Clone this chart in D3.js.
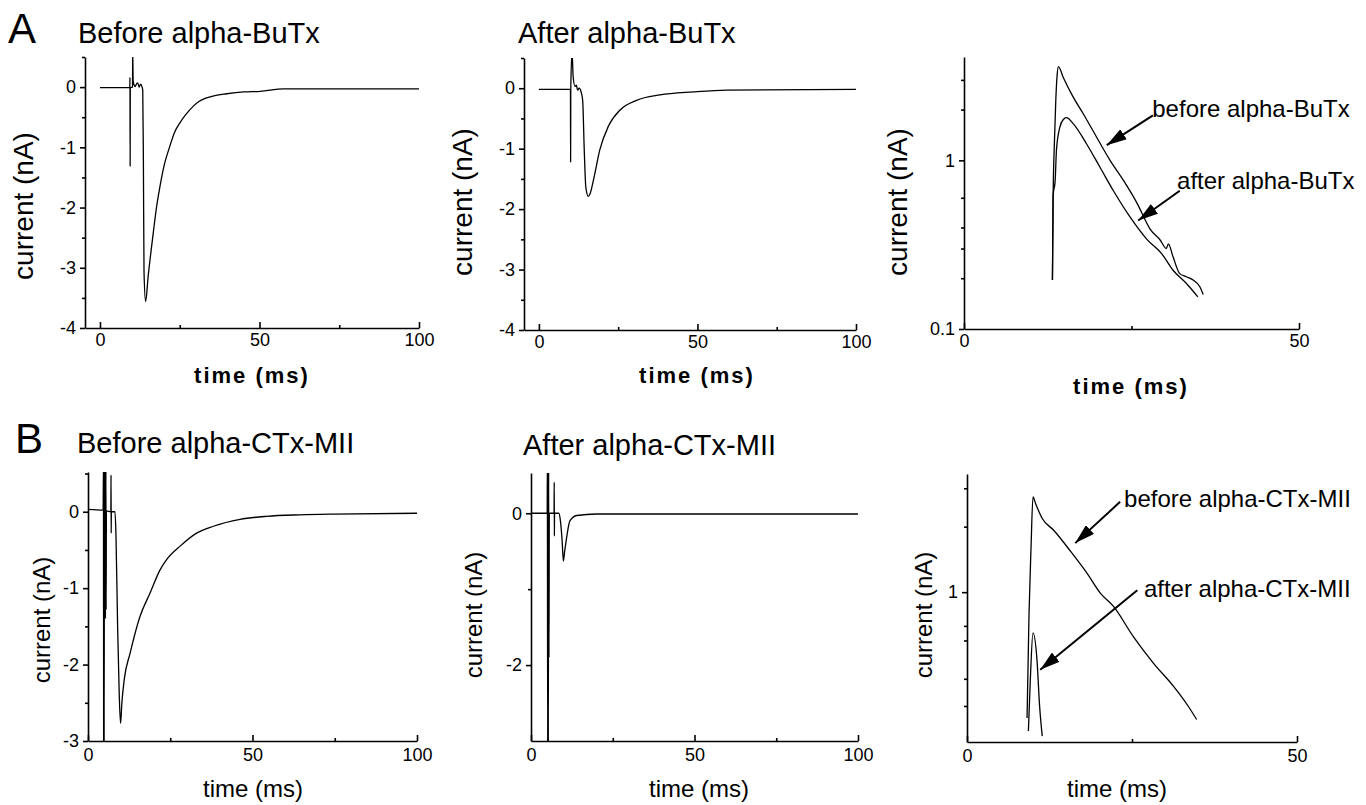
<!DOCTYPE html>
<html>
<head>
<meta charset="utf-8">
<script src="https://cdn.jsdelivr.net/npm/d3@7"></script>
<style>
  body { margin: 0; background: #fff; }
  svg text { font-family: "Liberation Sans", Arial, Helvetica, sans-serif; fill: #000; }
  .axis path, .axis line { stroke: #000; stroke-width: 1.6; }
  .axis text { font-size: 18px; font-family: "Liberation Sans", Arial, sans-serif; }
  .trace { fill: none; stroke: #000; stroke-width: 1.3; stroke-linejoin: round; }
  .title { font-size: 29px; }
  .letter { font-size: 42px; }
  .note { font-size: 24px; }
</style>
</head>
<body>
<svg id="fig" width="1366" height="805"></svg>
<script>

// ---- traces, [time ms, current nA] ----
var beforeBuTx = [[0,-0.01],[9.35,-0.01],[9.4,0.16],[9.45,-1.31],[9.5,-0.01],[10.2,0.0],[10.25,0.6],[10.4,0.1],
  [10.7,0.03],[11.0,0.01],[11.4,0.05],[11.8,0.07],[12.3,0.0],[12.7,0.05],[13.2,0.0],[13.4,-0.05],[13.6,-1.2],
  [13.8,-3.06],[14.3,-3.56],[15.1,-3.14],[16.7,-2.42],[17.7,-2.0],[18.8,-1.65],[20.2,-1.28],[21.9,-0.98],
  [23.3,-0.76],[25.1,-0.59],[27,-0.45],[29.2,-0.32],[31,-0.24],[33.4,-0.18],[36,-0.14],[39.7,-0.11],
  [45,-0.08],[50.2,-0.07],[57.5,-0.03],[75,-0.03],[100,-0.03]];

var afterBuTx = [[0,-0.02],[9.95,-0.02],[10.0,-1.22],[10.05,-0.02],[10.45,0.6],[10.8,0.19],[11.4,0.03],
  [11.8,0.05],[12.2,-0.03],[12.7,0.0],[13.3,-0.06],[13.8,-0.2],[14.3,-1.02],[14.8,-1.64],[15.6,-1.79],
  [16.1,-1.75],[17.2,-1.52],[19.2,-1.02],[21.9,-0.63],[25.6,-0.36],[30.8,-0.2],[38.2,-0.11],[48.7,-0.06],
  [59.2,-0.03],[100,-0.02]];

var beforeBuTxLog = [[13.2,0.195],[13.3,0.6],[13.5,1.3],[13.7,2.27],[13.9,3.2],[14.1,3.6],[14.8,3.11],
  [16.3,2.37],[17.8,1.89],[19.8,1.37],[21.8,1.0],[23.8,0.76],[25.8,0.56],[27.8,0.39],[29.3,0.336],
  [30.2,0.30],[30.5,0.32],[31.2,0.268],[32.2,0.213],[33.2,0.204],[34.2,0.195],[35.2,0.178],[35.7,0.16]];

var afterBuTxLog = [[13.2,0.195],[13.3,0.62],[13.6,0.75],[13.8,1.15],[14.3,1.57],[14.8,1.74],[15.3,1.79],
  [16.3,1.65],[18.3,1.25],[20.3,0.91],[22.3,0.66],[24.8,0.46],[27.3,0.34],[29.5,0.28],[31.2,0.223],
  [33.2,0.186],[34.9,0.155]];

var beforeCTx = [[0,0.03],[4.6,0.02],[4.7,0.6],[4.75,-3.1],[4.85,0.6],[4.9,-3.1],[5.0,0.6],[5.1,-1.4],
  [5.2,0.6],[5.3,-1.4],[5.45,0.6],[5.5,-1.28],[5.6,0.01],[6.95,0.0],[7.0,0.48],[7.05,-0.28],[7.1,0.0],
  [8.2,0.0],[8.5,-0.3],[9.0,-1.5],[9.5,-2.4],[9.9,-2.77],[10.3,-2.5],[11.0,-2.2],[12.8,-1.85],[15.8,-1.37],
  [18.8,-1.07],[21.9,-0.76],[24,-0.62],[28,-0.45],[33,-0.28],[38.1,-0.19],[46.2,-0.10],[54.3,-0.06],
  [64.4,-0.04],[74.5,-0.03],[100,-0.02]];

var afterCTx = [[0,0],[4.95,0],[5.0,0.6],[5.1,-3.1],[5.2,0.6],[5.3,-3.1],[5.4,0.6],[5.5,-1.9],[5.6,0],
  [7.05,0],[7.1,0.41],[7.15,-0.3],[7.2,0],[8.5,0],[9.0,-0.1],[9.5,-0.35],[9.9,-0.63],[10.3,-0.5],
  [10.9,-0.32],[11.9,-0.1],[14,-0.03],[20,-0.01],[100,-0.01]];

var beforeCTxLog = [[9.1,0.264],[9.4,0.8],[9.7,1.6],[10.0,2.74],[10.4,2.55],[11.4,2.18],[13.1,1.93],
  [15.7,1.54],[18.2,1.22],[20.2,0.99],[22.2,0.86],[25.2,0.625],[28.3,0.47],[31.3,0.369],[33.5,0.3],[34.8,0.26]];

var afterCTxLog = [[9.3,0.23],[9.6,0.4],[10.0,0.65],[10.6,0.49],[11.0,0.3],[11.4,0.218]];

// ---- ticks ----
var timeTicks100 = [0, 50, 100], timeMinor100 = [25, 75];
var timeTicks50 = [0, 50], timeMinor50 = [25];
var currentTicksA = [0, -1, -2, -3, -4], currentMinorA = [0.5, -0.5, -1.5, -2.5, -3.5];
var currentTicksB1 = [0, -1, -2, -3], currentMinorB1 = [0.5, -0.5, -1.5, -2.5];
var currentTicksB2 = [0, -2], currentMinorB2 = [-1];
var logTicksA = [0.1, 1], logMinorA = [0.2, 0.3, 0.4, 0.6, 2, 3];
var logTicksB = [1], logMinorB = [0.3, 0.4, 0.6, 0.7, 2, 3];

// ---- arrow notes, in data units ----
var notesBuTx = [
  { label: "before alpha-BuTx", at: [28.1, 1.80], from: [28.2, 1.85], to: [21.3, 1.23] },
  { label: "after alpha-BuTx", at: [31.8, 0.68], from: [32.2, 0.66], to: [26.0, 0.44] }
];
var notesCTx = [
  { label: "before alpha-CTx-MII", at: [23.8, 2.46], from: [23.2, 2.6], to: [16.4, 1.68] },
  { label: "after alpha-CTx-MII", at: [26.8, 0.95], from: [25.8, 1.02], to: [11.1, 0.44] }
];

var svg = d3.select("#fig");

svg.append("defs").append("marker")
  .attr("id", "arrowhead")
  .attr("markerUnits", "userSpaceOnUse")
  .attr("viewBox", "0 0 20 12")
  .attr("refX", 20).attr("refY", 6)
  .attr("markerWidth", 20).attr("markerHeight", 12)
  .attr("orient", "auto")
  .append("path")
  .attr("d", "M0,0 L20,6 L0,12 Z")
  .attr("fill", "#000");

function fmt(d) { return String(d); }

function drawPanel(o) {
  var x = d3.scaleLinear().domain(o.xDomain).range([o.left, o.right]);
  var y = (o.log ? d3.scaleLog() : d3.scaleLinear()).domain(o.yDomain).range([o.bottom, o.top]);

  svg.append("clipPath").attr("id", o.id + "-clip")
    .append("rect")
    .attr("x", o.left).attr("y", o.top)
    .attr("width", o.right - o.left).attr("height", o.bottom - o.top);

  // minor ticks
  svg.append("g").attr("class", "axis")
    .attr("transform", "translate(0," + o.bottom + ")")
    .call(d3.axisBottom(x).tickValues(o.xMinor).tickSize(-3).tickFormat(""))
    .select(".domain").remove();
  svg.append("g").attr("class", "axis")
    .attr("transform", "translate(" + o.left + ",0)")
    .call(d3.axisLeft(y).tickValues(o.yMinor).tickSize(3).tickFormat(""))
    .select(".domain").remove();

  // main axes
  svg.append("g").attr("class", "axis")
    .attr("transform", "translate(0," + o.bottom + ")")
    .call(d3.axisBottom(x).tickValues(o.xTicks).tickSizeInner(-6).tickSizeOuter(0)
      .tickPadding(o.xPad).tickFormat(fmt));
  svg.append("g").attr("class", "axis")
    .attr("transform", "translate(" + o.left + ",0)")
    .call(d3.axisLeft(y).tickValues(o.yTicks).tickSizeInner(5).tickSizeOuter(0)
      .tickPadding(4).tickFormat(fmt));

  var line = d3.line()
    .curve(d3.curveMonotoneX)
    .x(function(d) { return x(d[0]); })
    .y(function(d) { return y(d[1]); });

  o.series.forEach(function(s) {
    svg.append("path")
      .datum(s)
      .attr("class", "trace")
      .attr("clip-path", "url(#" + o.id + "-clip)")
      .attr("d", line);
  });

  // axis titles
  svg.append("text")
    .attr("transform", "translate(" + o.yLabelX + "," + o.yLabelY + ") rotate(-90)")
    .attr("text-anchor", "middle")
    .style("font-size", o.yLabelSize + "px")
    .text("current (nA)");

  svg.append("text")
    .attr("x", o.xLabelX).attr("y", o.xLabelY)
    .attr("text-anchor", "middle")
    .style("font-size", o.xLabelSize + "px")
    .style("font-weight", o.xLabelBold ? "bold" : "normal")
    .style("letter-spacing", o.xLabelBold ? "2px" : "0px")
    .text("time (ms)");

  if (o.title) {
    svg.append("text").attr("class", "title")
      .attr("x", o.titleX).attr("y", o.titleY)
      .text(o.title);
  }

  (o.notes || []).forEach(function(n) {
    svg.append("line")
      .attr("x1", x(n.from[0])).attr("y1", y(n.from[1]))
      .attr("x2", x(n.to[0])).attr("y2", y(n.to[1]))
      .attr("stroke", "#000").attr("stroke-width", 2)
      .attr("marker-end", "url(#arrowhead)");
    svg.append("text").attr("class", "note")
      .attr("x", x(n.at[0])).attr("y", y(n.at[1]))
      .text(n.label);
  });
}

// row A
drawPanel({
  id: "a1", left: 85, right: 419, top: 57, bottom: 328,
  xDomain: [-4.7, 100], yDomain: [-4, 0.5],
  xTicks: timeTicks100, xMinor: timeMinor100, yTicks: currentTicksA, yMinor: currentMinorA,
  xPad: 5, series: [beforeBuTx],
  yLabelX: 33, yLabelY: 206, yLabelSize: 28,
  xLabelX: 252, xLabelY: 383, xLabelSize: 22, xLabelBold: true,
  title: "Before alpha-BuTx", titleX: 78, titleY: 43
});

drawPanel({
  id: "a2", left: 524, right: 856, top: 58, bottom: 330,
  xDomain: [-4.7, 100], yDomain: [-4, 0.5],
  xTicks: timeTicks100, xMinor: timeMinor100, yTicks: currentTicksA, yMinor: currentMinorA,
  xPad: 5, series: [afterBuTx],
  yLabelX: 472, yLabelY: 202, yLabelSize: 28,
  xLabelX: 697, xLabelY: 383, xLabelSize: 22, xLabelBold: true,
  title: "After alpha-BuTx", titleX: 518, titleY: 43
});

drawPanel({
  id: "a3", log: true, left: 964, right: 1299, top: 57, bottom: 329,
  xDomain: [0, 50], yDomain: [0.1, 4.1],
  xTicks: timeTicks50, xMinor: timeMinor50, yTicks: logTicksA, yMinor: logMinorA,
  xPad: 5, series: [beforeBuTxLog, afterBuTxLog], notes: notesBuTx,
  yLabelX: 907, yLabelY: 202, yLabelSize: 28,
  xLabelX: 1131, xLabelY: 394, xLabelSize: 22, xLabelBold: true
});

// row B
drawPanel({
  id: "b1", left: 88, right: 417, top: 472, bottom: 741,
  xDomain: [0, 100], yDomain: [-3, 0.52],
  xTicks: timeTicks100, xMinor: timeMinor100, yTicks: currentTicksB1, yMinor: currentMinorB1,
  xPad: 7, series: [beforeCTx],
  yLabelX: 50, yLabelY: 620, yLabelSize: 24,
  xLabelX: 253, xLabelY: 797, xLabelSize: 24,
  title: "Before alpha-CTx-MII", titleX: 77, titleY: 453
});

drawPanel({
  id: "b2", left: 531, right: 858, top: 473, bottom: 741,
  xDomain: [0, 100], yDomain: [-3, 0.53],
  xTicks: timeTicks100, xMinor: timeMinor100, yTicks: currentTicksB2, yMinor: currentMinorB2,
  xPad: 7, series: [afterCTx],
  yLabelX: 482, yLabelY: 615, yLabelSize: 24,
  xLabelX: 699, xLabelY: 797, xLabelSize: 24,
  title: "After alpha-CTx-MII", titleX: 523, titleY: 455
});

drawPanel({
  id: "b3", log: true, left: 967, right: 1297, top: 474, bottom: 742,
  xDomain: [0, 50], yDomain: [0.205, 3.49],
  xTicks: timeTicks50, xMinor: timeMinor50, yTicks: logTicksB, yMinor: logMinorB,
  xPad: 7, series: [beforeCTxLog, afterCTxLog], notes: notesCTx,
  yLabelX: 932, yLabelY: 615, yLabelSize: 24,
  xLabelX: 1117, xLabelY: 797, xLabelSize: 24
});

// panel letters
svg.append("text").attr("class", "letter").attr("x", 8).attr("y", 43).text("A");
svg.append("text").attr("class", "letter").attr("x", 15).attr("y", 453).text("B");

</script>
</body>
</html>
